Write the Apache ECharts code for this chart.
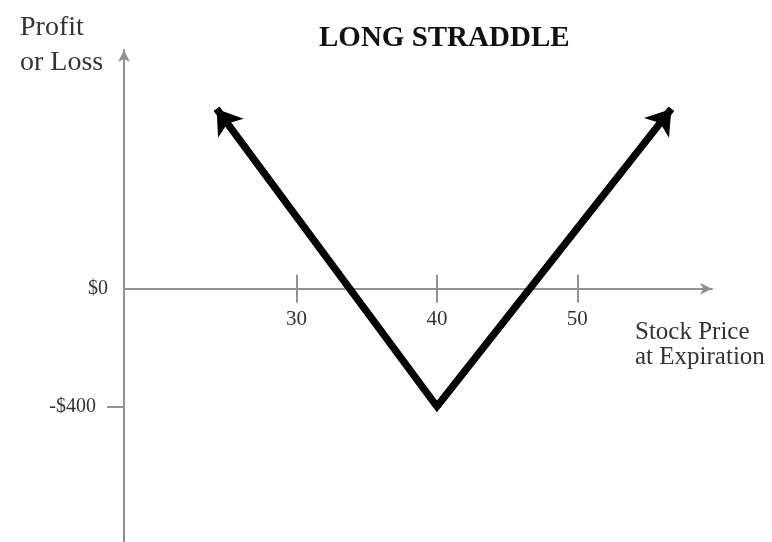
<!DOCTYPE html>
<html>
<head>
<meta charset="utf-8">
<title>Long Straddle</title>
<script src="https://cdn.jsdelivr.net/npm/echarts@6/dist/echarts.min.js"></script>
<style>
  html, body { margin: 0; padding: 0; background: #fff; }
  #chart { width: 772px; height: 542px; }
</style>
</head>
<body>
<div id="chart"></div>
<script>
// payoff at expiration
const stockPrices = [24.3, 40, 56.7];
const profitLoss = [610, -400, 610];

const xTicks = [30, 40, 50];
const yLabels = [0, -400];
const yTicks = [-400];

// axis extents (where the axes start and end)
const xMin = 17.7;
const xMax = 59.6;
const yMin = -860;
const yMax = 810;

const serif = "'Liberation Serif', 'Times New Roman', serif";
const axisGray = "#8e9398";

let chart = echarts.init(document.getElementById("chart"));

let vPoints = stockPrices.map(function (p, i) {
  return [p, profitLoss[i]];
});
let arrows = [
  { coords: [vPoints[1], vPoints[0]] },
  { coords: [vPoints[1], vPoints[2]] },
];

let option = {
  animation: false,
  title: [
    {
      text: "LONG STRADDLE",
      left: 314,
      top: 19,
      textStyle: { fontFamily: serif, fontSize: 29, fontWeight: "bold", color: "#111" },
    },
    {
      text: "Profit\nor Loss",
      left: 15,
      top: 5,
      textStyle: { fontFamily: serif, fontSize: 28, fontWeight: "normal", color: "#333", lineHeight: 35 },
    },
    {
      text: "Stock Price\nat Expiration",
      left: 630,
      top: 315,
      textStyle: { fontFamily: serif, fontSize: 25, fontWeight: "normal", color: "#333", lineHeight: 25 },
    },
  ],
  grid: {
    left: 124,
    right: 60,
    top: 50,
    bottom: 0,
    containLabel: false,
    outerBoundsMode: "none",
  },
  xAxis: [
    {
      type: "value",
      min: xMin,
      max: xMax,
      position: "bottom",
      axisLine: {
        onZero: false,
        lineStyle: { color: axisGray, width: 2 },
        symbol: ["none", "arrow"],
        symbolSize: [9, 12],
      },
      axisTick: {
        show: true,
        length: 14,
        customValues: xTicks,
        lineStyle: { color: axisGray, width: 2 },
      },
      axisLabel: {
        customValues: xTicks,
        margin: 20,
        fontFamily: serif,
        fontSize: 21,
        color: "#333",
      },
      splitLine: { show: false },
    },
    {
      // second axis only for the upper half of the ticks
      type: "value",
      min: xMin,
      max: xMax,
      position: "top",
      axisLine: { show: false, onZero: false },
      axisTick: {
        show: true,
        length: 14,
        customValues: xTicks,
        lineStyle: { color: axisGray, width: 2 },
      },
      axisLabel: { show: false },
      splitLine: { show: false },
    },
  ],
  yAxis: {
    type: "value",
    min: yMin,
    max: yMax,
    axisLine: {
      show: true,
      lineStyle: { color: axisGray, width: 2 },
      symbol: ["none", "arrow"],
      symbolSize: [9, 12],
    },
    axisTick: {
      show: true,
      length: 17,
      customValues: yTicks,
      lineStyle: { color: axisGray, width: 2 },
    },
    axisLabel: {
      customValues: yLabels,
      margin: 16,
      fontFamily: serif,
      fontSize: 20,
      color: "#333",
      formatter: function (v) {
        if (v === 0) return "$0";
        return "{far|-$" + Math.abs(v) + "}";
      },
      rich: {
        far: { fontFamily: serif, fontSize: 20, color: "#333", padding: [0, 12, 0, 0] },
      },
    },
    splitLine: { show: false },
  },
  series: [
    {
      type: "line",
      data: vPoints,
      showSymbol: false,
      lineStyle: { color: "#000", width: 7, join: "miter" },
      z: 3,
    },
    {
      type: "lines",
      coordinateSystem: "cartesian2d",
      data: arrows,
      symbol: ["none", "arrow"],
      symbolSize: [20, 24],
      lineStyle: { color: "#000", width: 7, opacity: 1 },
      z: 4,
    },
  ],
};
chart.setOption(option);

// move both x axes onto the $0 line (onZero does not carry the labels along)
let zeroY = chart.convertToPixel({ yAxisIndex: 0 }, 0);
let gridRect = chart.getModel().getComponent("grid", 0).coordinateSystem.getRect();
chart.setOption({
  xAxis: [
    { offset: zeroY - (gridRect.y + gridRect.height) },
    { offset: gridRect.y - zeroY },
  ],
});
</script>
</body>
</html>
